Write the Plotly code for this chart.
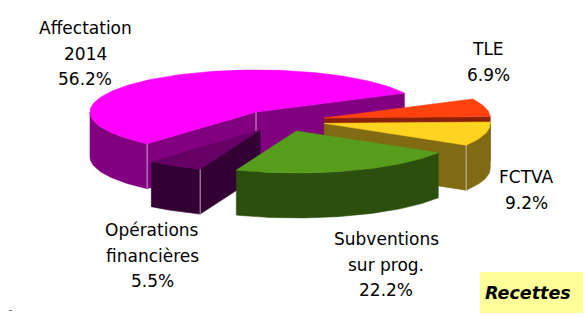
import numpy as np
import plotly.graph_objects as go

# ---------------- data ----------------
categories = ["Affectation\n2014", "TLE", "FCTVA", "Subventions\nsur prog.", "Opérations\nfinancières"]
values = [56.2, 6.9, 9.2, 22.2, 5.5]
title_box = "Recettes"

# ---------------- style ----------------
top_colors = ["#FF00FF", "#FF420E", "#FFD320", "#579D1C", "#660066"]
side_colors = ["#800080", "#8A2208", "#806A12", "#2D4F0E", "#330033"]
START_ANGLE = 229.0      # degrees, slices run clockwise
CX, CY = 282.5, 120.6    # pie centre (pixel space)
RX, RY = 166.0, 42.0     # ellipse radii
DEPTH = 45.0             # extrusion height
EXPLODE = 0.26           # radial pull, fraction of radius
FONT = "DejaVu Sans"
FONT_SIZE = 17
LINE_PITCH = 25.5
label_pos = [(85, 28), (488, 49), (526, 177), (386, 239), (152, 230)]  # first line centre

W, H = 587, 316

total = float(sum(values))
fig = go.Figure()


def poly(xs, ys, color, width=0.6):
    fig.add_trace(go.Scatter(
        x=list(xs) + [xs[0]], y=list(ys) + [ys[0]], mode="lines", fill="toself",
        fillcolor=color, line=dict(color=color, width=width),
        hoverinfo="skip", showlegend=False))


def edge(x, y0, y1):
    fig.add_trace(go.Scatter(
        x=[x, x], y=[y0, y1], mode="lines",
        line=dict(color="rgba(235,215,235,0.75)", width=1),
        hoverinfo="skip", showlegend=False))


# compute slice geometry
slices = []
b = START_ANGLE
for i, v in enumerate(values):
    span = v / total * 360.0
    a = b - span
    m = np.radians((a + b) / 2)
    off = (EXPLODE * RX * np.cos(m), -EXPLODE * RY * np.sin(m))
    slices.append(dict(i=i, a=a, b=b, m=m, off=off))
    b = a


def P(s, th_deg, dz=0.0):
    t = np.radians(th_deg)
    return (CX + s["off"][0] + RX * np.cos(t), CY + s["off"][1] - RY * np.sin(t) + dz)


def arc(s, t1, t2, dz=0.0):
    n = max(2, int(abs(t2 - t1) / 1.5) + 2)
    ts = np.linspace(t1, t2, n)
    pts = [P(s, t, dz) for t in ts]
    return [p[0] for p in pts], [p[1] for p in pts]


def front_ranges(a, b):
    """visible (front-facing) part of outer wall: sin(theta) < 0"""
    res = []
    for k in range(-2, 3):
        lo, hi = 180 + 360 * k, 360 + 360 * k
        l, h = max(a, lo), min(b, hi)
        if h > l:
            res.append((l, h))
    return res


# back-to-front order for side faces
def depth_key(s):
    span = np.radians(s["b"] - s["a"])
    c = (2.0 / 3.0) * np.sin(span / 2) / (span / 2)
    return -(EXPLODE + c) * np.sin(s["m"])


order = sorted(slices, key=depth_key)

for s in order:
    i = s["i"]
    col = side_colors[i]
    apx = (CX + s["off"][0], CY + s["off"][1])
    edges = []
    # cut faces
    for th, vis in ((s["a"], np.cos(np.radians(s["a"])) > 1e-9),
                    (s["b"], np.cos(np.radians(s["b"])) < -1e-9)):
        if vis:
            o = P(s, th)
            poly([apx[0], o[0], o[0], apx[0]],
                 [apx[1], o[1], o[1] + DEPTH, apx[1] + DEPTH], col)
            edges.append(("cut", th))
    # outer wall
    for (l, h) in front_ranges(s["a"], s["b"]):
        xt, yt = arc(s, l, h)
        xb, yb = arc(s, h, l, DEPTH)
        poly(xt + xb, yt + yb, col)
        edges.append(("wall", l))
        edges.append(("wall", h))
    # light vertical edges where two visible faces meet
    cuts = [th for k, th in edges if k == "cut"]
    walls = [th for k, th in edges if k == "wall"]
    if len(cuts) == 2:
        edge(apx[0], apx[1], apx[1] + DEPTH)
    for th in cuts:
        if any(abs(th - w) < 1e-6 for w in walls):
            o = P(s, th)
            edge(o[0], o[1], o[1] + DEPTH)

# top faces
for s in slices:
    apx = (CX + s["off"][0], CY + s["off"][1])
    xs, ys = arc(s, s["a"], s["b"])
    poly([apx[0]] + xs, [apx[1]] + ys, top_colors[s["i"]])

# labels
annotations = []
for cat, v, (lx, ly) in zip(categories, values, label_pos):
    lines = cat.split("\n") + [f"{v:.1f}%"]
    for k, ln in enumerate(lines):
        annotations.append(dict(
            x=lx, y=ly + k * LINE_PITCH, xref="x", yref="y", text=ln,
            showarrow=False, xanchor="center", yanchor="middle",
            font=dict(family=FONT, size=FONT_SIZE, color="black")))

annotations.append(dict(
    x=528, y=293, xref="x", yref="y", text=f"<b><i>{title_box}</i></b>",
    showarrow=False, xanchor="center", yanchor="middle",
    font=dict(family=FONT, size=17.5, color="black")))
annotations.append(dict(
    x=10, y=310, xref="x", yref="y", text="-", showarrow=False,
    xanchor="center", yanchor="middle", borderpad=0,
    font=dict(family=FONT, size=8, color="black")))

fig.update_layout(
    width=W, height=H, margin=dict(l=0, r=0, t=0, b=0),
    paper_bgcolor="white", plot_bgcolor="white", showlegend=False,
    xaxis=dict(range=[0, W], visible=False, fixedrange=True),
    yaxis=dict(range=[H, 0], visible=False, fixedrange=True),
    shapes=[dict(type="rect", xref="x", yref="y", x0=480, x1=583, y0=272, y1=313,
                 fillcolor="#FFFF99", line=dict(width=0), layer="below")],
    annotations=annotations,
)

fig.write_html("out.html")
